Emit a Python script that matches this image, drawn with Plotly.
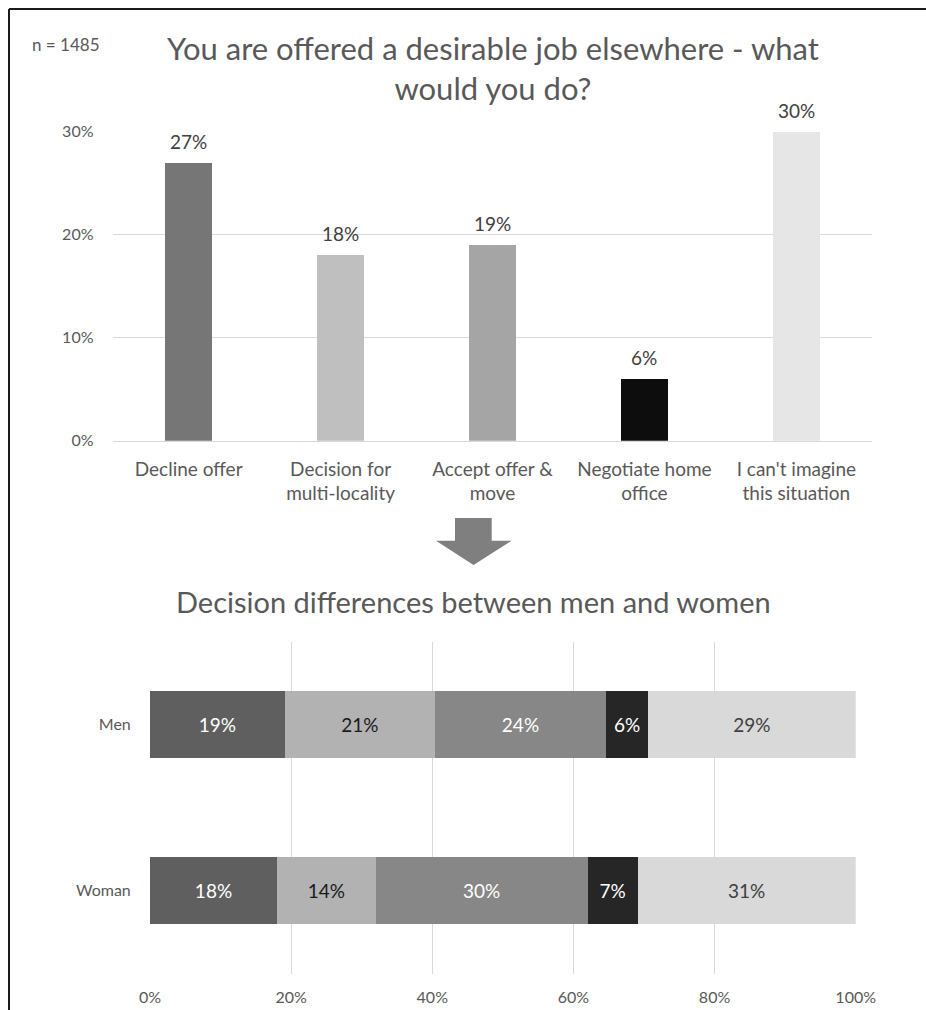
import plotly.graph_objects as go

W, H = 926, 1010

# ---- data ----
categories = ["Decline offer", "Decision for multi-locality", "Accept offer & move",
              "Negotiate home office", "I can't imagine this situation"]
category_labels = ["Decline offer", "Decision for<br>multi-locality", "Accept offer &<br>move",
                   "Negotiate home<br>office", "I can't imagine<br>this situation"]
overall_pct = [27, 18, 19, 6, 30]
top_ticks = [0, 10, 20, 30]
top_tick_labels = ["0%", "10%", "20%", "30%"]

groups = ["Men", "Woman"]
men_pct = [19.1, 21.3, 24.2, 6.0, 29.4]
woman_pct = [18.0, 14.0, 30.0, 7.1, 30.9]
bottom_ticks = [0, 20, 40, 60, 80, 100]
bottom_tick_labels = ["0%", "20%", "40%", "60%", "80%", "100%"]

top_colors = ["#767676", "#bfbfbf", "#a5a5a5", "#0d0d0d", "#e7e6e6"]
bottom_colors = ["#5f5f5f", "#b2b2b2", "#878787", "#262626", "#d9d9d9"]
bottom_text_colors = ["#ffffff", "#1a1a1a", "#ffffff", "#ffffff", "#404040"]

FONT = "Lato"
GREY = "#595959"


def px(x):
    return x / W


def py(y):
    return 1 - y / H


fig = go.Figure()

# top chart
fig.add_trace(go.Bar(
    x=categories, y=overall_pct, marker=dict(color=top_colors, line=dict(width=0)),
    width=0.31, xaxis="x", yaxis="y", showlegend=False, hoverinfo="skip"))
for c, v in zip(categories, overall_pct):
    fig.add_annotation(x=c, y=v, xref="x", yref="y", text=f"{v}%", showarrow=False,
                       xanchor="center", yanchor="bottom", yshift=8,
                       font=dict(family=FONT, size=19, color="#404040"))

# bottom chart
for i, cat in enumerate(categories):
    vals = [men_pct[i], woman_pct[i]]
    fig.add_trace(go.Bar(
        x=vals, y=groups, orientation="h", name=cat, width=0.4,
        marker=dict(color=bottom_colors[i], line=dict(width=0)),
        text=[f"{v:.0f}%" for v in vals], textposition="inside", insidetextanchor="middle",
        textangle=0, constraintext="none",
        textfont=dict(family=FONT, size=19, color=bottom_text_colors[i]),
        xaxis="x2", yaxis="y2", showlegend=False, hoverinfo="skip"))

fig.update_layout(
    width=W, height=H, margin=dict(l=0, r=0, t=0, b=0), autosize=False,
    paper_bgcolor="white", plot_bgcolor="white", barmode="stack",
    font=dict(family=FONT, color=GREY),
    xaxis=dict(domain=[px(112.7), px(872.3)], type="category", range=[-0.5, 4.5],
               tickvals=categories, ticktext=category_labels,
               tickfont=dict(family=FONT, size=19, color=GREY), showgrid=False,
               showline=True, linecolor="#d9d9d9", linewidth=1, ticks="outside", ticklen=11,
               tickcolor="rgba(0,0,0,0)", automargin=False, fixedrange=True),
    yaxis=dict(domain=[py(440.7), py(131.7)], range=[0, 30], tickvals=top_ticks,
               ticktext=top_tick_labels, tickfont=dict(family=FONT, size=16, color=GREY),
               showgrid=True, gridcolor="#d9d9d9", gridwidth=1, zeroline=False,
               showline=False, ticks="outside", ticklen=15, tickcolor="rgba(0,0,0,0)",
               automargin=False, fixedrange=True),
    xaxis2=dict(domain=[px(150), px(855.7)], range=[0, 100], tickvals=bottom_ticks,
                ticktext=bottom_tick_labels, tickfont=dict(family=FONT, size=16, color=GREY),
                showgrid=True, gridcolor="#d9d9d9", gridwidth=1, zeroline=False,
                showline=False, ticks="outside", ticklen=9, tickcolor="rgba(0,0,0,0)",
                anchor="y2", automargin=False, fixedrange=True),
    yaxis2=dict(domain=[py(973.5), py(641.5)], type="category", range=[1.5, -0.5],
                tickfont=dict(family=FONT, size=16, color=GREY), showgrid=False,
                zeroline=False, showline=False, ticks="outside", ticklen=15,
                tickcolor="rgba(0,0,0,0)", anchor="x2", automargin=False, fixedrange=True),
)

# titles and notes
fig.add_annotation(text="You are offered a desirable job elsewhere - what<br>would you do?",
                   x=px(492.5), y=py(68), xref="paper", yref="paper", showarrow=False,
                   xanchor="center", yanchor="middle",
                   font=dict(family=FONT, size=31, color=GREY))
fig.add_annotation(text="n = 1485", x=px(30), y=py(44), xref="paper", yref="paper",
                   showarrow=False, xanchor="left", yanchor="middle",
                   font=dict(family=FONT, size=17, color=GREY))
fig.add_annotation(text="Decision differences between men and women",
                   x=px(473.5), y=py(601), xref="paper", yref="paper", showarrow=False,
                   xanchor="center", yanchor="middle",
                   font=dict(family=FONT, size=29, color=GREY))

# down arrow
arrow_path = (f"M {px(455)} {py(518)} L {px(491.7)} {py(518)} L {px(491.7)} {py(540.7)} "
              f"L {px(511.7)} {py(540.7)} L {px(473.5)} {py(565)} L {px(436)} {py(540.7)} "
              f"L {px(455)} {py(540.7)} Z")
fig.add_shape(type="path", path=arrow_path, xref="paper", yref="paper",
              fillcolor="#7f7f7f", line=dict(width=0))

# outer frame (top and left edges; the rest lies outside the picture)
fig.add_shape(type="line", x0=px(9), y0=py(9), x1=1, y1=py(9), xref="paper", yref="paper",
              line=dict(color="#1a1a1a", width=2))
fig.add_shape(type="line", x0=px(9), y0=py(9), x1=px(9), y1=0, xref="paper", yref="paper",
              line=dict(color="#1a1a1a", width=2))

fig.write_html("out.html", config={"displayModeBar": False},
               post_script="document.body.style.overflow='hidden';"
                           "document.body.style.margin='0';")
